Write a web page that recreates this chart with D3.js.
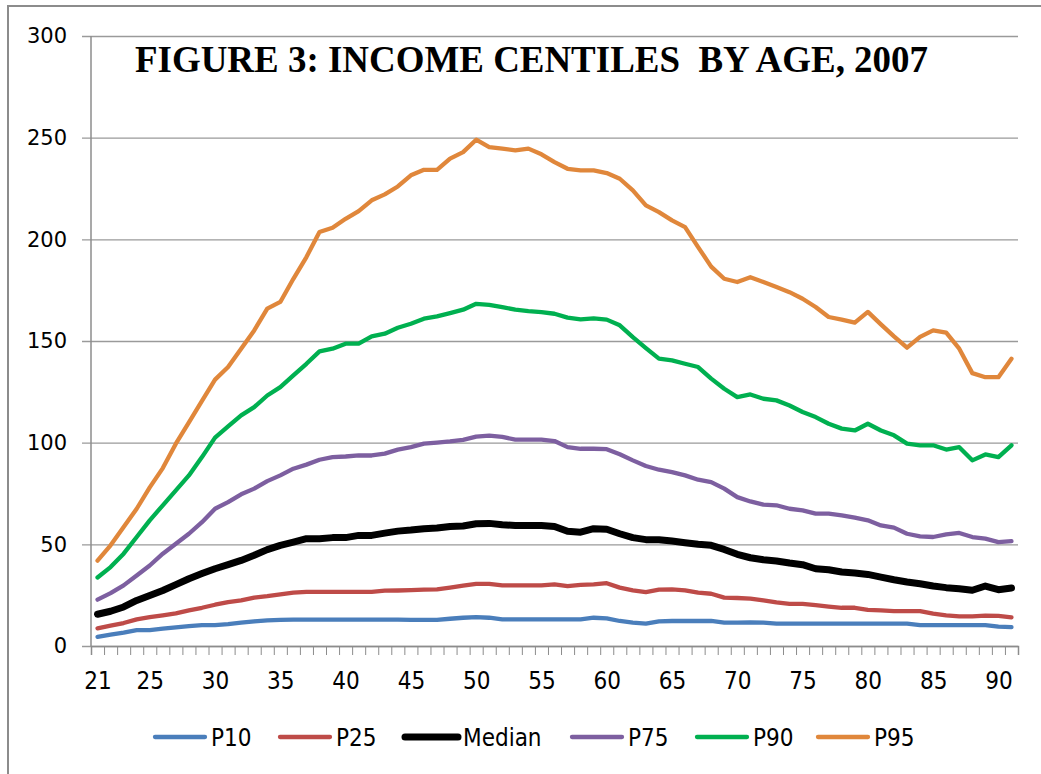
<!DOCTYPE html>
<html>
<head>
<meta charset="utf-8">
<script src="https://cdn.jsdelivr.net/npm/d3@7"></script>
<style>
  body { margin: 0; background: #fff; }
  svg { display: block; }
</style>
</head>
<body>
<svg id="chart" width="1041" height="774"></svg>
<script>
// ages 21..91
const ages = d3.range(21, 92);
const ageLabels = [21, 25, 30, 35, 40, 45, 50, 55, 60, 65, 70, 75, 80, 85, 90];
const yTicks = [0, 50, 100, 150, 200, 250, 300];
const seriesNames = ["P10", "P25", "Median", "P75", "P90", "P95"];
const title = "FIGURE 3: INCOME CENTILES  BY AGE, 2007";

const p10 = [4.5, 5.6, 6.6, 7.8, 7.8, 8.5, 9.2, 9.8, 10.3, 10.3,
	     10.8, 11.5, 12.1, 12.6, 12.8, 13, 13, 13, 13, 13,
	     13, 13, 13, 13, 12.8, 12.8, 12.8, 13.4, 13.9, 14.2,
	     13.9, 13.1, 13.1, 13.1, 13.1, 13.1, 13.1, 13.1, 13.9, 13.6,
	     12.3, 11.5, 11, 12.1, 12.3, 12.3, 12.3, 12.3, 11.5, 11.5,
	     11.6, 11.5, 11, 11, 11, 11, 11, 11, 11, 11,
	     11, 11, 11, 10.3, 10.3, 10.3, 10.3, 10.3, 10.3, 9.5,
	     9.3];
const p25 = [8.7, 10, 11.3, 13.1, 14.2, 15.1, 16, 17.5, 18.8, 20.3,
	     21.6, 22.4, 23.8, 24.5, 25.4, 26.2, 26.6, 26.6, 26.6, 26.6,
	     26.6, 26.6, 27.2, 27.3, 27.5, 27.7, 27.8, 28.7, 29.7, 30.6,
	     30.6, 29.8, 29.8, 29.8, 29.8, 30.3, 29.5, 30.1, 30.3, 30.9,
	     28.7, 27.4, 26.5, 27.7, 27.8, 27.4, 26.2, 25.7, 23.8, 23.6,
	     23.3, 22.4, 21.4, 20.7, 20.7, 20.1, 19.4, 18.8, 18.8, 17.8,
	     17.5, 17.2, 17.2, 17.2, 15.9, 15.1, 14.6, 14.6, 14.9, 14.8,
	     14.1];
const median = [15.6, 17.1, 19.2, 22.4, 24.8, 27.3, 30.2, 33.1, 35.6, 38,
		40, 42.1, 44.6, 47.4, 49.5, 51.1, 52.8, 52.8, 53.3, 53.3,
		54.4, 54.4, 55.5, 56.5, 57, 57.7, 58, 58.8, 59, 60.1,
		60.3, 59.6, 59.3, 59.3, 59.3, 58.8, 56.4, 56, 57.7, 57.4,
		55.2, 53.3, 52.3, 52.3, 51.6, 50.8, 50, 49.5, 47.5, 45.1,
		43.4, 42.4, 41.8, 40.8, 40, 38, 37.5, 36.4, 35.9, 35.2,
		33.9, 32.6, 31.5, 30.6, 29.5, 28.7, 28.2, 27.4, 29.5, 27.7,
		28.5];
const p75 = [22.8, 26, 29.8, 34.7, 39.6, 45.4, 50.3, 55.2, 60.9, 67.5,
	     70.8, 74.6, 77.4, 81.1, 83.9, 87.2, 89.2, 91.6, 92.9, 93.2,
	     93.7, 93.7, 94.6, 96.6, 97.8, 99.5, 100, 100.6, 101.4, 103,
	     103.5, 102.8, 101.5, 101.5, 101.5, 100.8, 97.8, 97, 97, 96.8,
	     94.3, 91.3, 88.5, 86.7, 85.5, 83.9, 81.8, 80.6, 77.4, 73.2,
	     71.1, 69.5, 69.2, 67.5, 66.7, 65.1, 65.1, 64.2, 63.1, 61.8,
	     59.3, 58.2, 55.2, 53.9, 53.6, 54.9, 55.6, 53.6, 52.8, 51.1,
	     51.6];
const p90 = [33.7, 38.8, 45.4, 53.6, 61.8, 69.2, 76.5, 83.9, 92.9, 102.5,
	     108, 113.4, 117.5, 123.2, 127.3, 133.1, 138.8, 144.9, 146.2, 148.7,
	     148.7, 152.3, 153.6, 156.5, 158.5, 161, 162.1, 163.7, 165.4, 168.3,
	     167.8, 166.7, 165.4, 164.7, 164.2, 163.4, 161.5, 160.6, 161.1, 160.5,
	     157.7, 151.9, 146.5, 141.3, 140.5, 138.8, 137.2, 131.5, 126.5, 122.4,
	     123.7, 121.6, 120.8, 118.3, 115.1, 112.6, 109.3, 106.9, 106, 109.3,
	     106, 103.6, 99.5, 98.7, 98.7, 96.6, 97.8, 91.3, 94.2, 92.9,
	     98.7];
const p95 = [42, 49.5, 58.5, 67.5, 78, 87.5, 99.5, 110, 120.5, 131,
	     137.2, 146.2, 155.2, 165.9, 169.2, 180.6, 191.3, 203.6, 205.7, 210.1,
	     213.9, 219.2, 222.1, 226, 231.5, 234.2, 234.2, 239.7, 242.9, 249,
	     245.4, 244.6, 243.8, 244.6, 241.8, 238, 234.7, 233.9, 233.9, 232.6,
	     229.8, 224.1, 216.7, 213.4, 209.3, 206, 196.2, 186.6, 180.6, 179,
	     181.4, 179, 176.5, 174, 170.8, 166.7, 161.8, 160.5, 159, 164.3,
	     158.2, 152.3, 146.7, 152, 155.2, 154.1, 146.2, 134.2, 132.2, 132.2,
	     141.3];

const seriesValues = [p10, p25, median, p75, p90, p95];
const colors = ["#4a7ebb", "#be4b48", "#000000", "#7d5fa0", "#00b050", "#e0873b"];
const widths = [4.3, 4.3, 7, 4.3, 4.3, 4.3];

let dimensions = (svg, m) =>
    ({width: +svg.attr("width"), height: +svg.attr("height"), margin: m,
      innerWidth: +svg.attr("width") - m.left - m.right,
      innerHeight: +svg.attr("height") - m.top - m.bottom});

const narrow = "'Liberation Sans Narrow', 'DejaVu Sans Condensed', sans-serif";

function centileChart(id) {
    const svg = d3.select(`#${id}`);
    const graph = dimensions(svg, {top: 36, left: 91, right: 23, bottom: 128});

    // outer frame (cropped on right / bottom)
    svg.append("rect")
	.attr("x", 8).attr("y", 6)
	.attr("width", 1100).attr("height", 900)
	.attr("fill", "none")
	.attr("stroke", "#8c8c8c")
	.attr("stroke-width", 2);

    const x = d3.scaleLinear()
	  .domain([20.5, 91.5])
	  .range([0, graph.innerWidth]);
    const y = d3.scaleLinear()
	  .domain([0, 300])
	  .range([graph.innerHeight, 0]);

    const g = svg.append("g")
	  .attr("transform", `translate(${graph.margin.left}, ${graph.margin.top})`);

    // gridlines + y labels
    const yAxis = d3.axisLeft(y)
	  .tickValues(yTicks)
	  .tickSize(-graph.innerWidth - 9)
	  .tickPadding(15);
    const yg = g.append("g")
	  .attr("transform", "translate(-9,0)")
	  .call(yAxis);
    yg.select(".domain").remove();
    yg.selectAll("line").attr("stroke", "#9a9a9a").attr("stroke-width", 1.3);
    yg.selectAll("text")
	.attr("font-family", "'DejaVu Sans', sans-serif")
	.attr("font-size", 21)
	.attr("fill", "#000");

    // y axis line
    g.append("line")
	.attr("x1", 0).attr("x2", 0)
	.attr("y1", 0).attr("y2", graph.innerHeight)
	.attr("stroke", "#8c8c8c").attr("stroke-width", 1.5);

    // x axis: tick marks on category boundaries
    const xTickAxis = d3.axisBottom(x)
	  .tickValues(d3.range(20.5, 92, 1))
	  .tickSize(9)
	  .tickFormat("");
    const xg = g.append("g")
	  .attr("transform", `translate(0, ${graph.innerHeight})`)
	  .call(xTickAxis);
    xg.select(".domain").attr("stroke", "#8c8c8c").attr("stroke-width", 1.5);
    xg.selectAll("line").attr("stroke", "#8c8c8c");

    const xLabelAxis = d3.axisBottom(x)
	  .tickValues(ageLabels)
	  .tickSize(0)
	  .tickPadding(26);
    const xl = g.append("g")
	  .attr("transform", `translate(0, ${graph.innerHeight})`)
	  .call(xLabelAxis);
    xl.select(".domain").remove();
    xl.selectAll("text")
	.attr("font-family", narrow)
	.attr("font-size", 24)
	.attr("fill", "#000");

    // lines
    const line = d3.line()
	  .x((d, i) => x(ages[i]))
	  .y(d => y(d));
    g.selectAll(".series").data(seriesValues)
	.enter().append("path")
	.attr("class", "series")
	.attr("d", d => line(d))
	.attr("fill", "none")
	.attr("stroke", (d, i) => colors[i])
	.attr("stroke-width", (d, i) => widths[i])
	.attr("stroke-linejoin", "round")
	.attr("stroke-linecap", "round");

    // title
    svg.append("text")
	.attr("x", 135).attr("y", 72)
	.attr("font-family", "'Liberation Serif', 'Times New Roman', serif")
	.attr("font-weight", "bold")
	.attr("font-size", 37)
	.attr("textLength", 793)
	.attr("lengthAdjust", "spacingAndGlyphs")
	.style("white-space", "pre")
	.text(title);

    // legend
    const legendX = [155, 280, 405, 572, 697, 818];
    const lg = svg.append("g").attr("transform", "translate(0, 737)");
    const items = lg.selectAll("g").data(seriesNames)
	  .enter().append("g")
	  .attr("transform", (d, i) => `translate(${legendX[i]}, 0)`);
    items.append("line")
	.attr("x1", 0).attr("x2", (d, i) => i == 2 ? 53 : 50)
	.attr("y1", 0).attr("y2", 0)
	.attr("stroke", (d, i) => colors[i])
	.attr("stroke-width", (d, i) => widths[i])
	.attr("stroke-linecap", "round");
    items.append("text")
	.attr("x", (d, i) => i == 2 ? 58 : 56)
	.attr("y", 8.5)
	.attr("font-family", narrow)
	.attr("font-size", 24)
	.attr("fill", "#000")
	.text(d => d);
}

centileChart("chart");
</script>
</body>
</html>
